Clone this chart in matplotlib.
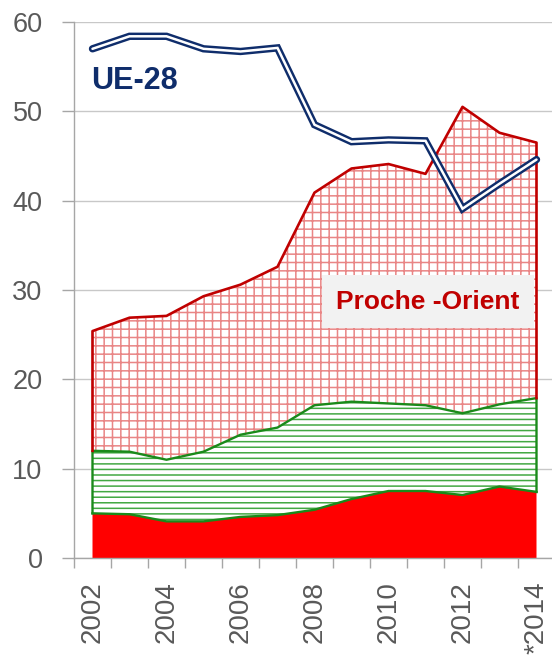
import numpy as np
import matplotlib
matplotlib.use("Agg")
import matplotlib.pyplot as plt

# Données
ANNEES = ['2002', '2003', '2004', '2005', '2006', '2007', '2008',
          '2009', '2010', '2011', '2012', '2013', '*2014']
UE28 = [57.0, 58.4, 58.4, 57.0, 56.7, 57.1, 48.5, 46.6, 46.8, 46.7, 39.1, 41.9, 44.6]
PROCHE_ORIENT = [25.4, 26.9, 27.1, 29.3, 30.6, 32.6, 40.9, 43.6, 44.1, 43.0, 50.5, 47.6, 46.5]
MILIEU = [12.0, 11.9, 11.0, 11.9, 13.8, 14.6, 17.1, 17.5, 17.3, 17.1, 16.2, 17.2, 17.9]
BAS = [5.0, 4.9, 4.1, 4.1, 4.6, 4.8, 5.4, 6.6, 7.5, 7.5, 7.05, 8.0, 7.4]
Y_TICKS = [0, 10, 20, 30, 40, 50, 60]

plt.rcParams['font.family'] = ['Liberation Sans', 'DejaVu Sans']
plt.rcParams['hatch.linewidth'] = 1.1

x = np.arange(len(ANNEES))
bas = np.array(BAS)
milieu = np.array(MILIEU)
total = np.array(PROCHE_ORIENT)

fig = plt.figure(figsize=(5.52, 6.58), dpi=100)
ax = fig.add_axes([74 / 552, 100 / 658, 481 / 552, 536 / 658])

# Zone rouge pleine
ax.fill_between(x, 0, bas, facecolor='#ff0000', linewidth=0, zorder=2)

# Zone verte hachurée
ax.fill_between(x, bas, milieu, facecolor='white', edgecolor='#42a842',
                hatch='---', linewidth=0, zorder=3)
ax.plot(np.r_[x[0], x, x[-1]], np.r_[bas[0], milieu, bas[-1]],
        color='#1a8a1a', lw=1.7, zorder=4)
ax.plot(x, bas, color='#1a8a1a', lw=1.7, zorder=4)

# Zone rouge quadrillée (Proche-Orient)
ax.fill_between(x, milieu, total, facecolor='white', edgecolor='#e98585',
                hatch='++', linewidth=0, zorder=3)
ax.plot(np.r_[x[0], x, x[-1]], np.r_[milieu[0], total, milieu[-1]],
        color='#c00000', lw=1.9, zorder=5)

# Ligne UE-28 (double trait)
ax.plot(x, UE28, color='#0f2d6b', lw=5.3, solid_capstyle='round',
        solid_joinstyle='miter', zorder=6)
ax.plot(x, UE28, color='white', lw=1.8, solid_capstyle='round',
        solid_joinstyle='miter', zorder=7)

ax.text(-0.05, 53.4, 'UE-28', color='#0f2d6b', fontsize=22,
        fontweight='bold', ha='left', va='center', zorder=8)
ax.text(9.07, 28.7, 'Proche -Orient', color='#c00000', fontsize=19,
        fontweight='bold', ha='center', va='center', zorder=8,
        bbox=dict(boxstyle='square,pad=0.55', facecolor='#f2f2f2',
                  edgecolor='none'))

ax.set_xlim(-0.5, 12.5)
ax.set_ylim(0, 60)

ax.set_yticks(Y_TICKS)
ax.grid(axis='y', color='#c8c8c8', lw=1, zorder=0)
ax.set_axisbelow(True)

ax.set_xticks(x[::2])
ax.set_xticklabels(ANNEES[::2], rotation=90, va='top', ha='center')
ax.set_xticks(np.arange(-0.5, 12.6, 1), minor=True)

ax.tick_params(axis='x', which='major', length=0, pad=17,
               labelsize=20, labelcolor='#595959')
ax.tick_params(axis='x', which='minor', length=7.5, width=1,
               color='#a6a6a6', direction='out')
ax.tick_params(axis='y', length=8.6, width=1, color='#a6a6a6',
               pad=14, labelsize=19.5, labelcolor='#595959')

for side in ['top', 'right']:
    ax.spines[side].set_visible(False)
for side in ['left', 'bottom']:
    ax.spines[side].set_color('#a6a6a6')
    ax.spines[side].set_linewidth(1)

fig.savefig('out.png', dpi=100)
